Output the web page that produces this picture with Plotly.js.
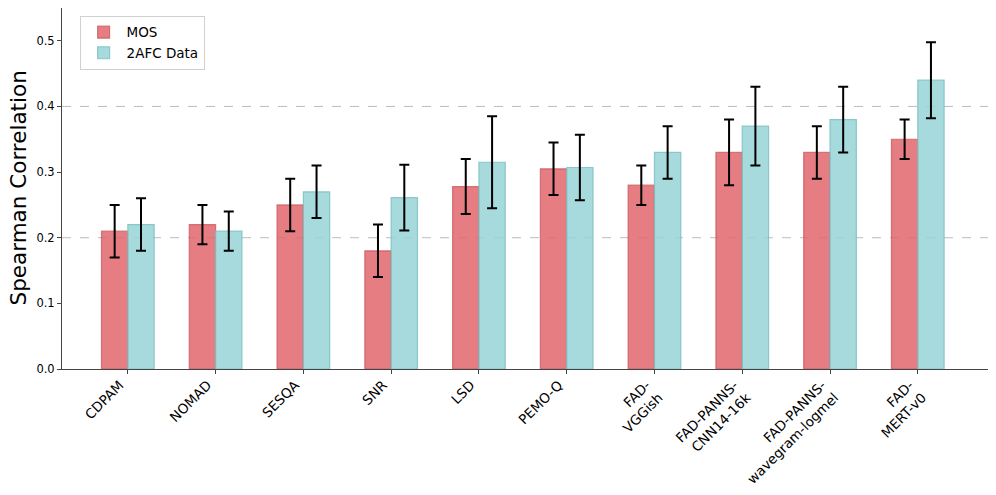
<!DOCTYPE html>
<html>
<head>
<meta charset="utf-8">
<script src="https://cdn.plot.ly/plotly-3.0.1.min.js"></script>
<style>html,body{margin:0;padding:0;background:#fff;}#chart{width:996px;height:495px;}</style>
</head>
<body>
<div id="chart"></div>
<script>
const categories = ["CDPAM", "NOMAD", "SESQA", "SNR", "LSD", "PEMO-Q", "FAD-<br>VGGish", "FAD-PANNS-<br>CNN14-16k", "FAD-PANNS-<br>wavegram-logmel", "FAD-<br>MERT-v0"];
const mosValues = [0.21, 0.22, 0.25, 0.18, 0.278, 0.305, 0.28, 0.33, 0.33, 0.35];
const mosErrors = [0.04, 0.03, 0.04, 0.04, 0.042, 0.04, 0.03, 0.05, 0.04, 0.03];
const afcValues = [0.22, 0.21, 0.27, 0.261, 0.315, 0.307, 0.33, 0.37, 0.38, 0.44];
const afcErrors = [0.04, 0.03, 0.04, 0.05, 0.07, 0.05, 0.04, 0.06, 0.05, 0.058];
const yTicks = [0, 0.1, 0.2, 0.3, 0.4, 0.5];
const yTickLabels = ["0.0", "0.1", "0.2", "0.3", "0.4", "0.5"];
const gridValues = [0.2, 0.4];
const yTitle = 'Spearman Correlation';

const errStyle = {type: 'data', visible: true, color: '#000000', thickness: 2, width: 5};

const traces = [
  {type: 'bar', name: 'MOS', x: categories, y: mosValues,
   error_y: Object.assign({array: mosErrors}, errStyle),
   marker: {color: 'rgba(224,102,108,0.85)', line: {color: 'rgba(200,80,88,0.7)', width: 1.2}}},
  {type: 'bar', name: '2AFC Data', x: categories, y: afcValues,
   error_y: Object.assign({array: afcErrors}, errStyle),
   marker: {color: 'rgba(152,212,214,0.85)', line: {color: 'rgba(120,190,192,0.8)', width: 1.2}}}
];

const layout = {
  width: 996, height: 495,
  margin: {l: 62, r: 8, t: 8, b: 126},
  paper_bgcolor: '#ffffff', plot_bgcolor: '#ffffff',
  font: {family: 'DejaVu Sans, sans-serif', color: '#000000', size: 12},
  barmode: 'group', bargap: 0.4, bargroupgap: 0,
  showlegend: true,
  legend: {x: 0.019, y: 0.978, xanchor: 'left', yanchor: 'top',
           bgcolor: 'rgba(255,255,255,0.9)', bordercolor: '#d0d0d0', borderwidth: 1,
           font: {size: 13.5}, tracegroupgap: 2, itemwidth: 36},
  xaxis: {
    type: 'category', range: [-0.75, 9.8],
    tickangle: -45, tickfont: {size: 13.5},
    ticklabelshift: -8, ticklabelstandoff: -2,
    ticks: 'outside', ticklen: 4, tickcolor: '#444', tickwidth: 1,
    showline: true, linecolor: '#444', linewidth: 1,
    showgrid: false, zeroline: false
  },
  yaxis: {
    range: [0, 0.55], tickvals: yTicks, ticktext: yTickLabels,
    tickfont: {size: 11.5},
    ticks: 'outside', ticklen: 4, tickcolor: '#444', tickwidth: 1,
    showline: true, linecolor: '#444', linewidth: 1,
    showgrid: false, zeroline: false
  },
  annotations: [{text: yTitle, xref: 'paper', yref: 'paper', x: -0.0475, y: 0.5,
    xanchor: 'center', yanchor: 'middle', textangle: -90, showarrow: false,
    font: {size: 21.5, color: '#000000'}}],
  shapes: gridValues.map(v => ({type: 'line', xref: 'paper', yref: 'y', x0: 0, x1: 1, y0: v, y1: v,
    layer: 'below', line: {color: '#bbbbbb', width: 1, dash: 'dash'}}))
};

Plotly.newPlot('chart', traces, layout, {displayModeBar: false, staticPlot: true});
</script>
</body>
</html>
